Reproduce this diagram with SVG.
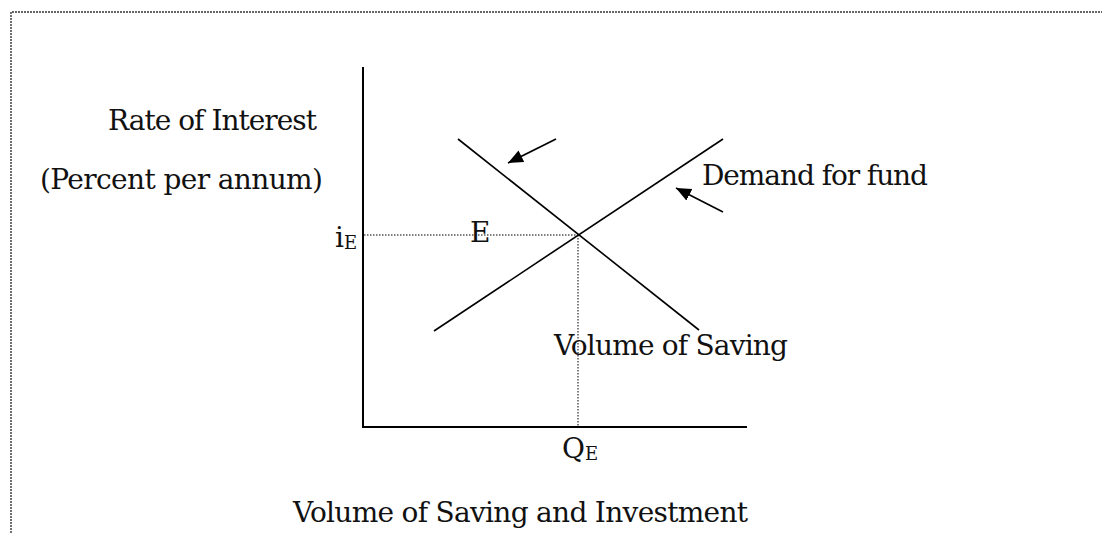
<svg xmlns="http://www.w3.org/2000/svg" width="1104" height="533" viewBox="0 0 1104 533">
<style>
text{font-family:"DejaVu Serif","Liberation Serif",serif;font-size:28px;fill:#111}
.sub{font-size:18px}
.axis{stroke:#000;stroke-width:2;fill:none}
.curve{stroke:#000;stroke-width:1.6;fill:none}
.dot{stroke:#000;stroke-width:1;stroke-dasharray:1.5 1.5;fill:none}
.arrow{stroke:#000;stroke-width:1.6;fill:none;marker-end:url(#ah)}
</style>
<defs>
<marker id="ah" markerUnits="userSpaceOnUse" markerWidth="16" markerHeight="14" refX="15" refY="6.5" orient="auto">
<path d="M0,0 L15,6.5 L0,13 z" fill="#000"/>
</marker>
</defs>
<rect width="1104" height="533" fill="#fff"/>
<path d="M11,533 V12 H1102" stroke="#333" stroke-width="1.4" stroke-dasharray="2 1" fill="none"/>
<g id="axes">
<line class="axis" x1="363" y1="67" x2="363" y2="428"/>
<line class="axis" x1="362" y1="427" x2="747" y2="427"/>
</g>
<g id="connectors">
<line class="curve" x1="458" y1="139" x2="699" y2="330"/>
<line class="curve" x1="434" y1="331" x2="723" y2="139"/>
<line class="dot" x1="364" y1="235" x2="578" y2="235"/>
<line class="dot" x1="578" y1="235" x2="578" y2="426"/>
<line class="arrow" x1="556" y1="139" x2="508" y2="163"/>
<line class="arrow" x1="723" y1="212" x2="676" y2="188"/>
</g>
<g id="label-rate"><text x="108" y="130" textLength="209" lengthAdjust="spacing">Rate of Interest</text></g>
<g id="label-percent"><text x="40" y="189" textLength="283" lengthAdjust="spacing">(Percent per annum)</text></g>
<g id="label-iE"><text x="335" y="247">i<tspan class="sub" dy="2">E</tspan></text></g>
<g id="label-E"><text x="470" y="242">E</text></g>
<g id="label-demand"><text x="702" y="185" textLength="226" lengthAdjust="spacing">Demand for fund</text></g>
<g id="label-saving"><text x="554" y="355" textLength="234" lengthAdjust="spacing">Volume of Saving</text></g>
<g id="label-QE"><text x="562" y="458">Q<tspan class="sub" dy="2">E</tspan></text></g>
<g id="label-xaxis"><text x="293" y="522" textLength="455" lengthAdjust="spacing">Volume of Saving and Investment</text></g>
</svg>
